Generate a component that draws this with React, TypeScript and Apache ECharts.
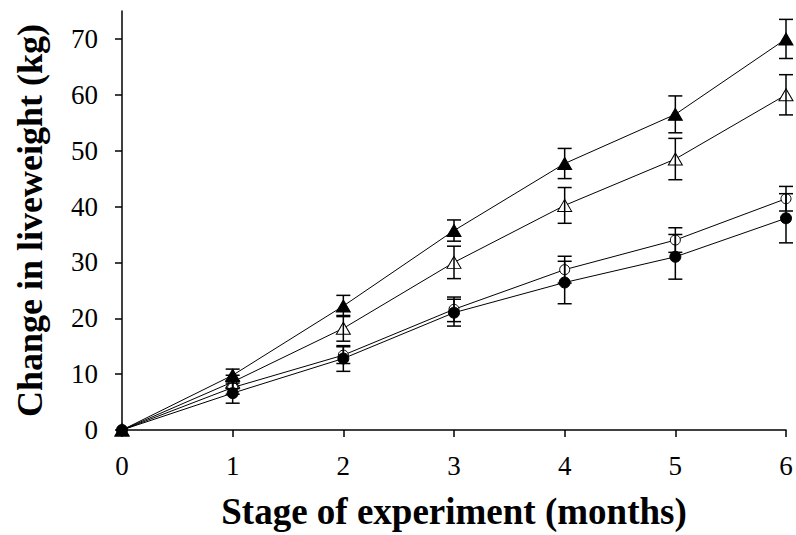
import React, { useEffect, useRef } from "react";
import * as echarts from "echarts";

const months = [0, 1, 2, 3, 4, 5, 6];
const yTicks = [0, 10, 20, 30, 40, 50, 60, 70];

const filledTriangle = [0, 9.8, 22.2, 35.7, 47.7, 56.5, 70.0];
const filledTriangleErr = [0, 1.1, 1.9, 1.9, 2.7, 3.3, 3.5];
const openTriangle = [0, 8.6, 18.2, 30.0, 40.2, 48.5, 60.0];
const openTriangleErr = [0, 1.2, 2.3, 2.9, 3.2, 3.7, 3.6];
const openCircle = [0, 7.6, 13.4, 21.6, 28.7, 34.0, 41.4];
const openCircleErr = [0, 1.2, 1.5, 2.2, 2.4, 2.2, 2.2];
const filledCircle = [0, 6.6, 12.8, 21.0, 26.4, 31.0, 37.9];
const filledCircleErr = [0, 1.8, 2.3, 2.4, 3.8, 4.0, 4.4];

const FONT = "'Liberation Serif', 'Times New Roman', serif";

const groups = [
  { name: "B", values: openTriangle, err: openTriangleErr, symbol: "triangle", size: [14, 12], fill: "#fff" },
  { name: "C", values: openCircle, err: openCircleErr, symbol: "circle", size: 10, fill: "#fff" },
  { name: "A", values: filledTriangle, err: filledTriangleErr, symbol: "triangle", size: [14, 12], fill: "#000" },
  { name: "D", values: filledCircle, err: filledCircleErr, symbol: "circle", size: 11, fill: "#000" },
];

export default function App() {
  const ref = useRef<HTMLDivElement>(null);
  useEffect(() => {
    if (!ref.current) return;
    const chart = echarts.init(ref.current, undefined, { renderer: "svg" });
    const series: any[] = [];
    groups.forEach((g) => {
      series.push({
        type: "line",
        name: g.name,
        data: months.map((m, i) => [m, g.values[i]]),
        symbol: g.symbol,
        symbolSize: g.size,
        showAllSymbol: true,
        lineStyle: { color: "#000", width: 1 },
        itemStyle: { color: g.fill, borderColor: "#000", borderWidth: 1 },
        z: 2,
      });
    });
    groups.forEach((g) => {
      series.push({
        type: "custom",
        name: g.name + " err",
        data: months.map((m, i) => [m, g.values[i], g.err[i]]),
        z: 3,
        renderItem: (params: any, api: any) => {
          const x = api.value(0);
          const y = api.value(1);
          const e = api.value(2);
          if (!e) return null;
          const top = api.coord([x, y + e]);
          const bot = api.coord([x, y - e]);
          const hw = 7;
          const style = { stroke: "#000", lineWidth: 1.5 };
          return {
            type: "group",
            children: [
              { type: "line", shape: { x1: top[0], y1: top[1], x2: bot[0], y2: bot[1] }, style },
              { type: "line", shape: { x1: top[0] - hw, y1: top[1], x2: top[0] + hw, y2: top[1] }, style },
              { type: "line", shape: { x1: bot[0] - hw, y1: bot[1], x2: bot[0] + hw, y2: bot[1] }, style },
            ],
          };
        },
      });
    });

    chart.setOption({
      animation: false,
      backgroundColor: "#fff",
      grid: { left: 122, right: 10, top: 11, bottom: 105, containLabel: false, outerBoundsMode: "none" },
      xAxis: {
        type: "value",
        min: 0,
        max: 6,
        interval: 1,
        name: "Stage of experiment (months)",
        nameLocation: "middle",
        nameGap: 63,
        nameTextStyle: { fontFamily: FONT, fontWeight: "bold", fontSize: 37, color: "#000" },
        axisLine: { lineStyle: { color: "#000", width: 1.5 } },
        axisTick: { show: true, inside: false, length: 7, lineStyle: { color: "#000", width: 1.5 } },
        axisLabel: { fontFamily: FONT, fontSize: 27, color: "#000", margin: 22 },
        splitLine: { show: false },
      },
      yAxis: {
        type: "value",
        min: 0,
        max: 75,
        name: "Change in liveweight (kg)",
        nameLocation: "middle",
        nameGap: 74,
        nameTextStyle: { fontFamily: FONT, fontWeight: "bold", fontSize: 36, color: "#000" },
        axisLine: { lineStyle: { color: "#000", width: 1.5 } },
        axisTick: { show: true, inside: false, length: 7, customValues: yTicks, lineStyle: { color: "#000", width: 1.5 } },
        axisLabel: { fontFamily: FONT, fontSize: 27, color: "#000", margin: 24, customValues: yTicks },
        splitLine: { show: false },
      },
      series,
    });
    return () => chart.dispose();
  }, []);
  return (
    <div
      ref={ref}
      style={{ position: "fixed", left: 0, top: 0, width: 796, height: 535, background: "#fff" }}
    />
  );
}
